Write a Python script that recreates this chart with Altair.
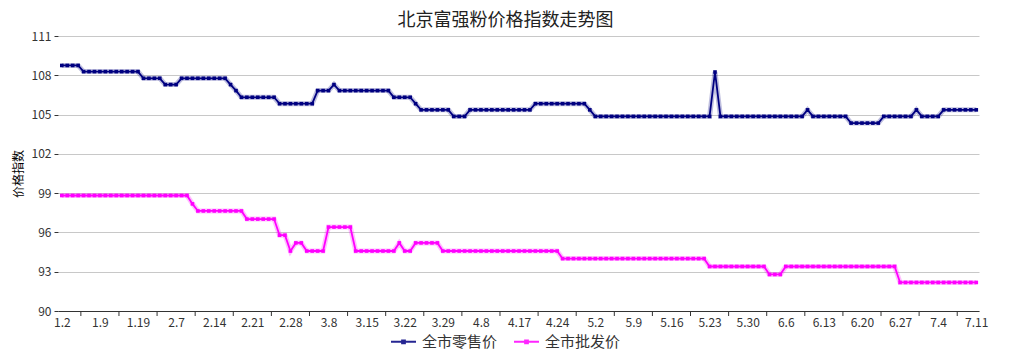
import altair as alt
import pandas as pd

FONT = "Noto Sans CJK SC"

tick_labels = ["1.2", "1.9", "1.19", "2.7", "2.14", "2.21", "2.28", "3.8", "3.15",
               "3.22", "3.29", "4.8", "4.17", "4.24", "5.2", "5.9", "5.16", "5.23",
               "5.30", "6.6", "6.13", "6.20", "6.27", "7.4", "7.11"]

series_names = ["全市零售价", "全市批发价"]
series_colors = ["#000080", "#FF00FF"]

retail = [
    108.75, 108.75, 108.75, 108.75, 108.28, 108.28, 108.28, 108.28, 108.28, 108.28,
    108.28, 108.28, 108.28, 108.28, 108.28, 107.77, 107.77, 107.77, 107.77, 107.29,
    107.29, 107.29, 107.77, 107.77, 107.77, 107.77, 107.77, 107.77, 107.77, 107.77,
    107.77, 107.29, 106.83, 106.32, 106.32, 106.32, 106.32, 106.32, 106.32, 106.32,
    105.83, 105.83, 105.83, 105.83, 105.83, 105.83, 105.83, 106.83, 106.83, 106.83,
    107.29, 106.83, 106.83, 106.83, 106.83, 106.83, 106.83, 106.83, 106.83, 106.83,
    106.83, 106.32, 106.32, 106.32, 106.32, 105.83, 105.36, 105.36, 105.36, 105.36,
    105.36, 105.36, 104.86, 104.86, 104.86, 105.36, 105.36, 105.36, 105.36, 105.36,
    105.36, 105.36, 105.36, 105.36, 105.36, 105.36, 105.36, 105.83, 105.83, 105.83,
    105.83, 105.83, 105.83, 105.83, 105.83, 105.83, 105.83, 105.36, 104.86, 104.86,
    104.86, 104.86, 104.86, 104.86, 104.86, 104.86, 104.86, 104.86, 104.86, 104.86,
    104.86, 104.86, 104.86, 104.86, 104.86, 104.86, 104.86, 104.86, 104.86, 104.86,
    108.25, 104.86, 104.86, 104.86, 104.86, 104.86, 104.86, 104.86, 104.86, 104.86,
    104.86, 104.86, 104.86, 104.86, 104.86, 104.86, 104.86, 105.36, 104.86, 104.86,
    104.86, 104.86, 104.86, 104.86, 104.86, 104.35, 104.35, 104.35, 104.35, 104.35,
    104.35, 104.86, 104.86, 104.86, 104.86, 104.86, 104.86, 105.36, 104.86, 104.86,
    104.86, 104.86, 105.36, 105.36, 105.36, 105.36, 105.36, 105.36, 105.36,
]

wholesale = [
    98.82, 98.82, 98.82, 98.82, 98.82, 98.82, 98.82, 98.82, 98.82, 98.82,
    98.82, 98.82, 98.82, 98.82, 98.82, 98.82, 98.82, 98.82, 98.82, 98.82,
    98.82, 98.82, 98.82, 98.82, 98.18, 97.64, 97.64, 97.64, 97.64, 97.64,
    97.64, 97.64, 97.64, 97.64, 97.02, 97.02, 97.02, 97.02, 97.02, 97.02,
    95.79, 95.79, 94.58, 95.20, 95.20, 94.58, 94.58, 94.58, 94.58, 96.41,
    96.41, 96.41, 96.41, 96.41, 94.58, 94.58, 94.58, 94.58, 94.58, 94.58,
    94.58, 94.58, 95.20, 94.58, 94.58, 95.20, 95.20, 95.20, 95.20, 95.20,
    94.58, 94.58, 94.58, 94.58, 94.58, 94.58, 94.58, 94.58, 94.58, 94.58,
    94.58, 94.58, 94.58, 94.58, 94.58, 94.58, 94.58, 94.58, 94.58, 94.58,
    94.58, 94.58, 94.00, 94.00, 94.00, 94.00, 94.00, 94.00, 94.00, 94.00,
    94.00, 94.00, 94.00, 94.00, 94.00, 94.00, 94.00, 94.00, 94.00, 94.00,
    94.00, 94.00, 94.00, 94.00, 94.00, 94.00, 94.00, 94.00, 94.00, 93.40,
    93.40, 93.40, 93.40, 93.40, 93.40, 93.40, 93.40, 93.40, 93.40, 93.40,
    92.79, 92.79, 92.79, 93.40, 93.40, 93.40, 93.40, 93.40, 93.40, 93.40,
    93.40, 93.40, 93.40, 93.40, 93.40, 93.40, 93.40, 93.40, 93.40, 93.40,
    93.40, 93.40, 93.40, 93.40, 92.18, 92.18, 92.18, 92.18, 92.18, 92.18,
    92.18, 92.18, 92.18, 92.18, 92.18, 92.18, 92.18, 92.18, 92.18,
]

y_ticks = [90, 93, 96, 99, 102, 105, 108, 111]

n = len(retail)
df = pd.DataFrame({
    "i": list(range(n)) + list(range(len(wholesale))),
    "v": retail + wholesale,
    "s": [series_names[0]] * n + [series_names[1]] * len(wholesale),
})

label_step = 7
label_positions = [k * label_step for k in range(len(tick_labels))]
tick_positions = pd.DataFrame({"i": [k * label_step + label_step / 2 for k in range(len(tick_labels) - 1)]})

label_expr = "[" + ",".join("'" + t + "'" for t in tick_labels) + "][round(datum.value/7)]"

W, H = 921, 275

x_enc = alt.X(
    "i:Q",
    scale=alt.Scale(domain=[-0.7, n - 1 + 0.5], nice=False, zero=False),
    axis=alt.Axis(
        values=label_positions, labelExpr=label_expr, ticks=False, grid=False,
        domainColor="#333333", domainWidth=1, labelColor="#333333", labelFontSize=12,
        labelFont=FONT, labelPadding=6, labelFlush=False, labelOverlap=False, title=None,
    ),
)
y_enc = alt.Y(
    "v:Q",
    scale=alt.Scale(domain=[90, 111], nice=False, zero=False),
    axis=alt.Axis(
        values=y_ticks, domain=False, ticks=True, tickSize=4, tickColor="#333333",
        grid=True, gridColor="#c8c8c8", gridWidth=1, labelColor="#333333",
        labelFontSize=12, labelFont=FONT, labelPadding=3,
        title="价格指数", titleFont=FONT, titleFontSize=12, titleFontWeight="normal",
        titleColor="#000000", titlePadding=6,
    ),
)

legend_path = "M-1,0L1,0M-0.11,-0.11L0.11,-0.11L0.11,0.11L-0.11,0.11Z"
color_enc = alt.Color(
    "s:N",
    scale=alt.Scale(domain=series_names, range=series_colors),
    sort=series_names,
    legend=alt.Legend(
        title=None, orient="none", direction="horizontal", legendX=332, legendY=292,
        symbolType=legend_path, symbolSize=625, symbolStrokeWidth=2, symbolOpacity=0.85,
        labelFont=FONT, labelFontSize=15, labelColor="#333333", columnPadding=12,
        labelOffset=5,
    ),
)

base = alt.Chart(df).encode(x=x_enc, y=y_enc, color=color_enc)

halo = base.mark_line(strokeWidth=5, opacity=0.25)
line = base.mark_line(strokeWidth=1.8)
pts = base.mark_square(size=13, opacity=1, filled=True)

xticks = alt.Chart(tick_positions).mark_rule(color="#333333", strokeWidth=1).encode(
    x=x_enc, y=alt.value(H), y2=alt.value(H + 5)
)

chart = alt.layer(halo, line, pts, xticks).properties(
    width=W, height=H,
    padding={"left": 50, "top": 28, "right": 23, "bottom": 41},
    autosize=alt.AutoSizeParams(type="none"),
    title=alt.TitleParams(
        "北京富强粉价格指数走势图", font=FONT, fontSize=18, fontWeight="normal",
        color="#222222", anchor="middle", dx=-13, offset=0, frame="group",
    ),
).configure_view(stroke=None)

chart.save("out.html", embed_options={"renderer": "svg", "actions": False})
